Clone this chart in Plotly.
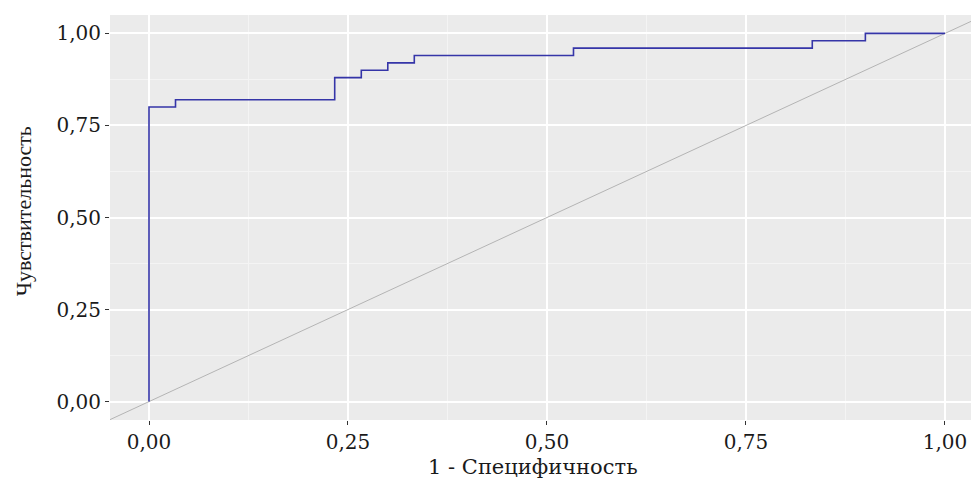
import plotly.graph_objects as go

# ROC curve points (1 - specificity, sensitivity), step-wise
fpr = [0.0, 0.0, 0.0333, 0.0333, 0.2333, 0.2333, 0.2667, 0.2667, 0.3000, 0.3000,
       0.3333, 0.3333, 0.5333, 0.5333, 0.8333, 0.8333, 0.9000, 0.9000, 1.0]
tpr = [0.0, 0.80, 0.80, 0.82, 0.82, 0.88, 0.88, 0.90, 0.90, 0.92,
       0.92, 0.94, 0.94, 0.96, 0.96, 0.98, 0.98, 1.00, 1.00]

diag = [-0.1, 1.1]
tick_vals = [0.0, 0.25, 0.5, 0.75, 1.0]
tick_text = ["0,00", "0,25", "0,50", "0,75", "1,00"]
x_title = "1 - Специфичность"
y_title = "Чувствительность"

fig = go.Figure()
fig.add_trace(go.Scatter(x=diag, y=diag, mode="lines",
                         line=dict(color="#b4b4b4", width=1), hoverinfo="skip",
                         showlegend=False))
fig.add_trace(go.Scatter(x=fpr, y=tpr, mode="lines",
                         line=dict(color="#3535a8", width=1.6, shape="linear"),
                         showlegend=False))

axis_common = dict(
    tickvals=tick_vals, ticktext=tick_text, ticks="outside", ticklen=4,
    tickwidth=1.2, tickcolor="#333333", showline=False, zeroline=False,
    gridcolor="#ffffff", gridwidth=1.6,
    tickfont=dict(family="DejaVu Serif", size=20, color="#1a1a1a"),
    minor=dict(tick0=0.125, dtick=0.25, showgrid=True, gridcolor="#f4f4f4",
               gridwidth=0.8, ticks=""),
)

fig.update_layout(
    width=971, height=482,
    margin=dict(l=110, r=0, t=15, b=62),
    paper_bgcolor="#ffffff", plot_bgcolor="#ebebeb",
    xaxis=dict(range=[-0.049, 1.0327], **axis_common),
    yaxis=dict(range=[-0.05, 1.05], **axis_common),
    annotations=[
        dict(text=x_title, xref="paper", yref="paper", x=0.491, y=-0.115,
             xanchor="center", yanchor="middle", showarrow=False,
             font=dict(family="DejaVu Serif", size=21, color="#1a1a1a")),
        dict(text=y_title, xref="paper", yref="paper", x=-0.1, y=0.515,
             xanchor="center", yanchor="middle", showarrow=False, textangle=-90,
             font=dict(family="Liberation Serif", size=22, color="#1a1a1a")),
    ],
)

fig.write_html("out.html")
